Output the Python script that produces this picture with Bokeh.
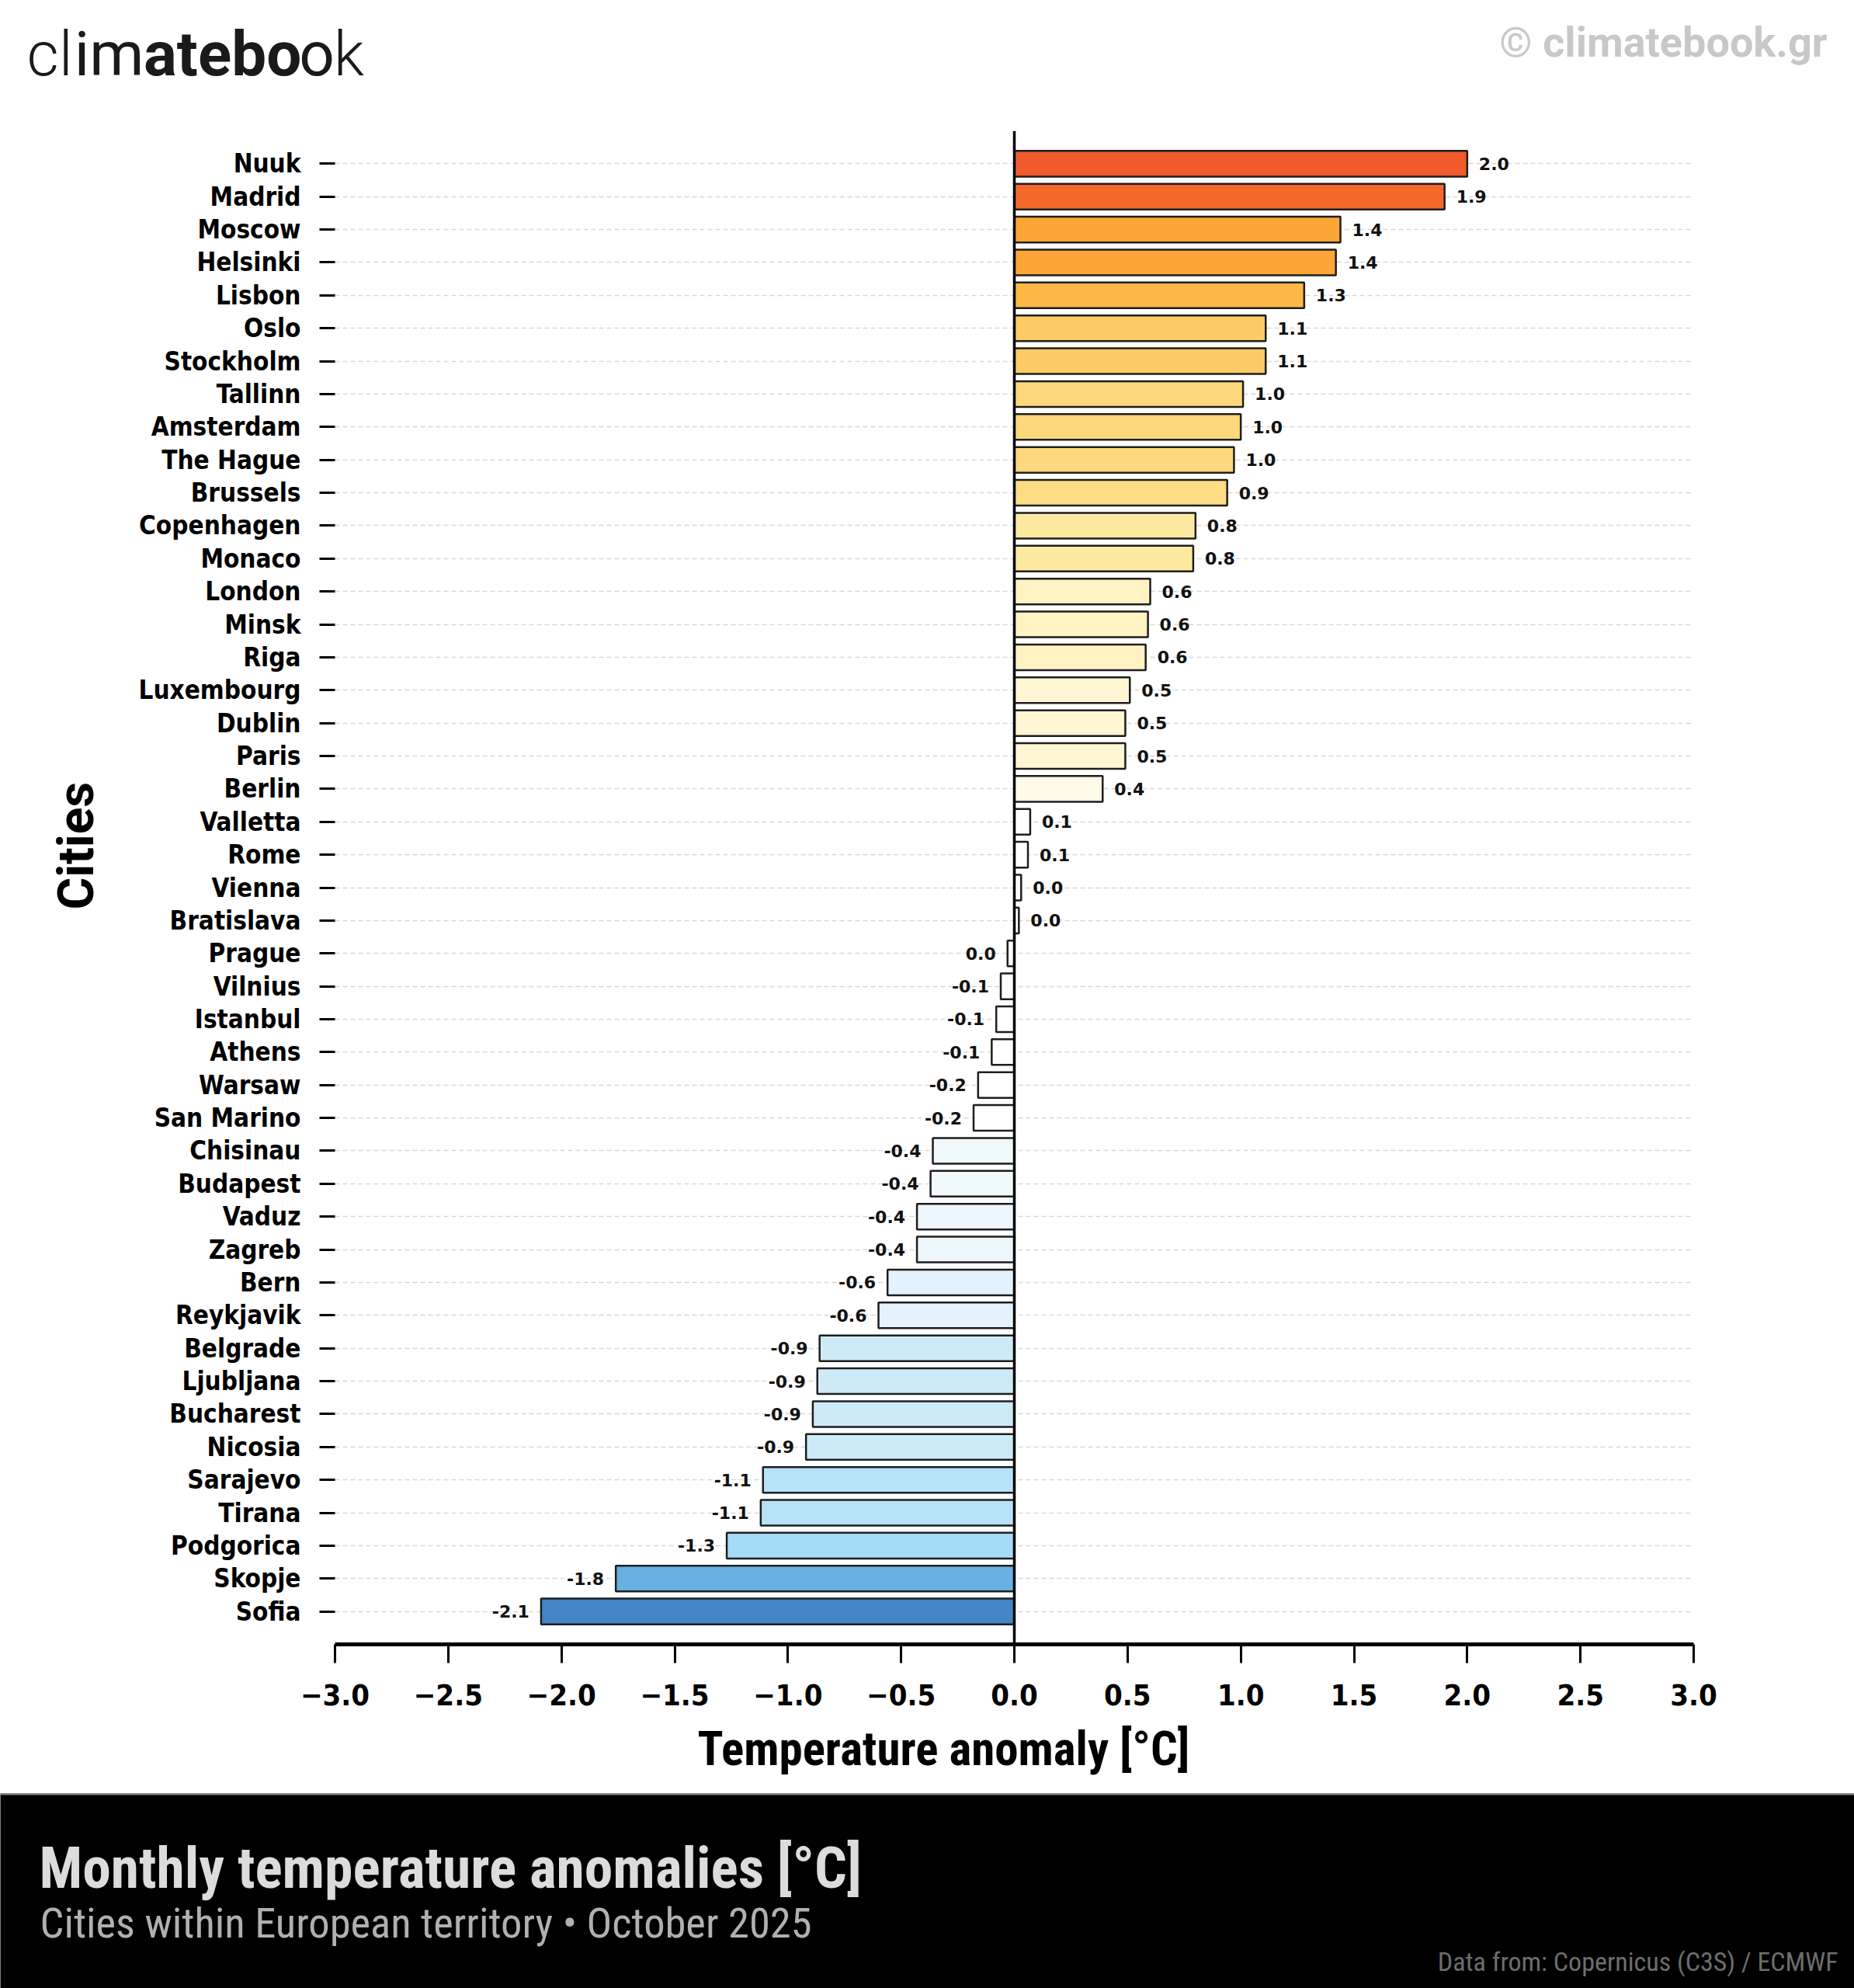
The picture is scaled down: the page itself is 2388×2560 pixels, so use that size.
import numpy as np
from bokeh.plotting import figure
from bokeh.models import Range1d, FactorRange, FixedTicker, CustomJSTickFormatter, Span, ColumnDataSource
from bokeh.layouts import column, row
from bokeh.core.properties import value
from bokeh.embed import file_html
from bokeh.resources import INLINE

# ---------------- data ----------------
cities = ["Nuuk", "Madrid", "Moscow", "Helsinki", "Lisbon", "Oslo", "Stockholm", "Tallinn",
          "Amsterdam", "The Hague", "Brussels", "Copenhagen", "Monaco", "London", "Minsk", "Riga",
          "Luxembourg", "Dublin", "Paris", "Berlin", "Valletta", "Rome", "Vienna", "Bratislava",
          "Prague", "Vilnius", "Istanbul", "Athens", "Warsaw", "San Marino", "Chisinau", "Budapest",
          "Vaduz", "Zagreb", "Bern", "Reykjavik", "Belgrade", "Ljubljana", "Bucharest", "Nicosia",
          "Sarajevo", "Tirana", "Podgorica", "Skopje", "Sofia"]
anomalies = [2.00, 1.90, 1.44, 1.42, 1.28, 1.11, 1.11, 1.01,
             1.00, 0.97, 0.94, 0.80, 0.79, 0.60, 0.59, 0.58,
             0.51, 0.49, 0.49, 0.39, 0.07, 0.06, 0.03, 0.02,
             -0.03, -0.06, -0.08, -0.10, -0.16, -0.18, -0.36, -0.37,
             -0.43, -0.43, -0.56, -0.60, -0.86, -0.87, -0.89, -0.92,
             -1.11, -1.12, -1.27, -1.76, -2.09]
x_ticks = [-3.0, -2.5, -2.0, -1.5, -1.0, -0.5, 0.0, 0.5, 1.0, 1.5, 2.0, 2.5, 3.0]

# stepped colour scale (lower bound -> colour)
color_steps = [(1.95, "#EF5B2B"), (1.6, "#F4692A"), (1.35, "#FBA636"), (1.2, "#FCB946"),
               (1.05, "#FDCB65"), (0.96, "#FED87C"), (0.9, "#FEDC85"), (0.7, "#FEE9A1"),
               (0.55, "#FFF3C4"), (0.45, "#FFF6D4"), (0.3, "#FFFBE9"), (-0.3, "#FFFFFF"),
               (-0.4, "#F1F9FD"), (-0.5, "#EDF7FC"), (-0.7, "#E4F3FB"), (-1.0, "#CEEAF7"),
               (-1.2, "#B5E2F7"), (-1.5, "#A6DBF5"), (-1.9, "#67B0E0"), (-99, "#4385C6")]


def color_for(v):
    for lo, c in color_steps:
        if v >= lo:
            return c
    return color_steps[-1][1]


def fmt(v):
    s = "{:.1f}".format(v)
    return "0.0" if s == "-0.0" else s


colors = [color_for(v) for v in anomalies]
labels = [fmt(v) for v in anomalies]

W = 2388
BLACK = "#000000"


def canvas_fig(w, h, **kw):
    f = figure(width=w, height=h, output_backend="svg", toolbar_location=None, title=None,
               x_range=Range1d(0, w), y_range=Range1d(h, 0), min_border=0,
               x_axis_location=None, y_axis_location=None, **kw)
    f.grid.visible = False
    f.outline_line_color = None
    return f


def put_text(f, x, baseline, txt, size, font, style="normal", color=BLACK, align="left"):
    # empirical correction: the rendered alphabetic baseline sits ~0.36 em below the anchor
    f.text(x=[x], y=[baseline - 0.36 * size], text=[txt], text_font=value(font),
           text_font_style=style, text_font_size=f"{size}px", text_baseline="alphabetic",
           text_align=align, text_color=color)


# ---------------- header ----------------
HH = 132
header = canvas_fig(W, HH)
fs = 80
pieces = [("cl", "Roboto Light", "normal", 0.523 + 0.243),
          ("im", "Roboto", "normal", 0.243 + 0.873),
          ("atebo", "Roboto", "bold", 0.531 + 0.334 + 0.530 + 0.550 + 0.557),
          ("o", "Roboto", "normal", 0.556),
          ("k", "Roboto Light", "normal", 0.495)]
xpos = 34
for txt, fam, sty, wem in pieces:
    put_text(header, xpos, 98, txt, fs, fam, sty, "#1a1a1a")
    xpos += wem * fs

put_text(header, 2353, 73, "© climatebook.gr", 54, "Roboto", "bold", "#C8C8C8", "right")

# ---------------- main chart ----------------
MH = 2215 - HH
CW = 150
cities_fig = canvas_fig(CW, MH)
cities_fig.text(x=[98], y=[1089 - HH + 27], text=["Cities"], angle=np.pi / 2, text_font=value("Roboto"),
                text_font_style="bold", text_font_size="64px", text_align="center",
                text_baseline="middle", text_color=BLACK)

p = figure(width=W - CW, height=MH, output_backend="svg", toolbar_location=None, title=None,
           y_range=FactorRange(factors=cities[::-1], range_padding=0.5, range_padding_units="absolute"),
           x_range=Range1d(-3, 3),
           min_border_left=281, min_border_right=207, min_border_top=168 - HH, min_border_bottom=98)
p.outline_line_color = None
p.xgrid.visible = False
p.ygrid.grid_line_color = "#D8D8D8"
p.ygrid.grid_line_dash = "6 4"
p.ygrid.grid_line_width = 1.5

src = ColumnDataSource(dict(city=cities, val=anomalies, color=colors, label=labels))
p.hbar(y="city", left=0, right="val", height=0.78, fill_color="color", line_color="#1e1e1e",
       line_width=2.5, source=src)

pos_idx = [i for i, v in enumerate(anomalies) if v >= 0]
neg_idx = [i for i, v in enumerate(anomalies) if v < 0]
pos_src = ColumnDataSource(dict(city=[cities[i] for i in pos_idx], val=[anomalies[i] for i in pos_idx],
                                label=[labels[i] for i in pos_idx]))
neg_src = ColumnDataSource(dict(city=[cities[i] for i in neg_idx], val=[anomalies[i] for i in neg_idx],
                                label=[labels[i] for i in neg_idx]))
common = dict(text_font=value("DejaVu Sans"), text_font_style="bold", text_font_size="22px",
              text_baseline="middle", text_color="#111111")
p.text(x="val", y="city", text="label", x_offset=15, text_align="left", source=pos_src, **common)
p.text(x="val", y="city", text="label", x_offset=-15, text_align="right", source=neg_src, **common)

p.add_layout(Span(location=0, dimension="height", line_color=BLACK, line_width=3.5))

xa = p.xaxis[0]
xa.ticker = FixedTicker(ticks=x_ticks)
xa.formatter = CustomJSTickFormatter(code="return (tick < 0 ? '\u2212' : '') + Math.abs(tick).toFixed(1);")
xa.axis_line_width = 5
xa.axis_line_color = BLACK
xa.major_tick_out = 24
xa.major_tick_in = 0
xa.major_tick_line_width = 3
xa.major_tick_line_color = BLACK
xa.minor_tick_line_color = None
xa.major_label_text_font = "DejaVu Sans Condensed"
xa.major_label_text_font_style = "bold"
xa.major_label_text_font_size = "38px"
xa.major_label_text_color = BLACK
xa.major_label_standoff = 27

ya = p.yaxis[0]
ya.axis_line_color = None
ya.major_tick_out = 20
ya.major_tick_in = 0
ya.major_tick_line_width = 3
ya.major_tick_line_color = BLACK
ya.minor_tick_line_color = None
ya.major_label_text_font = "DejaVu Sans Condensed"
ya.major_label_text_font_style = "bold"
ya.major_label_text_font_size = "33px"
ya.major_label_text_color = BLACK
ya.major_label_standoff = 24

# ---------------- x-axis title strip ----------------
XH = 94
xtitle = canvas_fig(W, XH)
put_text(xtitle, 1215, 58, "Temperature anomaly [°C]", 61, "Roboto Condensed", "bold", BLACK, "center")

# ---------------- footer ----------------
FH = 2560 - HH - MH - XH
footer = canvas_fig(W, FH, background_fill_color=BLACK, border_fill_color=BLACK)
footer.line(x=[0, W], y=[1, 1], line_color="#8a8a8a", line_width=2)
put_text(footer, 50, 123, "Monthly temperature anomalies [°C]", 73.5, "Roboto Condensed", "bold", "#DCDCDC")
put_text(footer, 51, 186, "Cities within European territory • October 2025", 54.5, "Roboto Condensed",
         "normal", "#B0B0B0")
put_text(footer, 2367, 229, "Data from: Copernicus (C3S) / ECMWF", 34, "Roboto Condensed", "normal",
         "#6E6E6E", "right")

layout = column(header, row(cities_fig, p), xtitle, footer)
open("out.html", "w").write(file_html(layout, INLINE))
